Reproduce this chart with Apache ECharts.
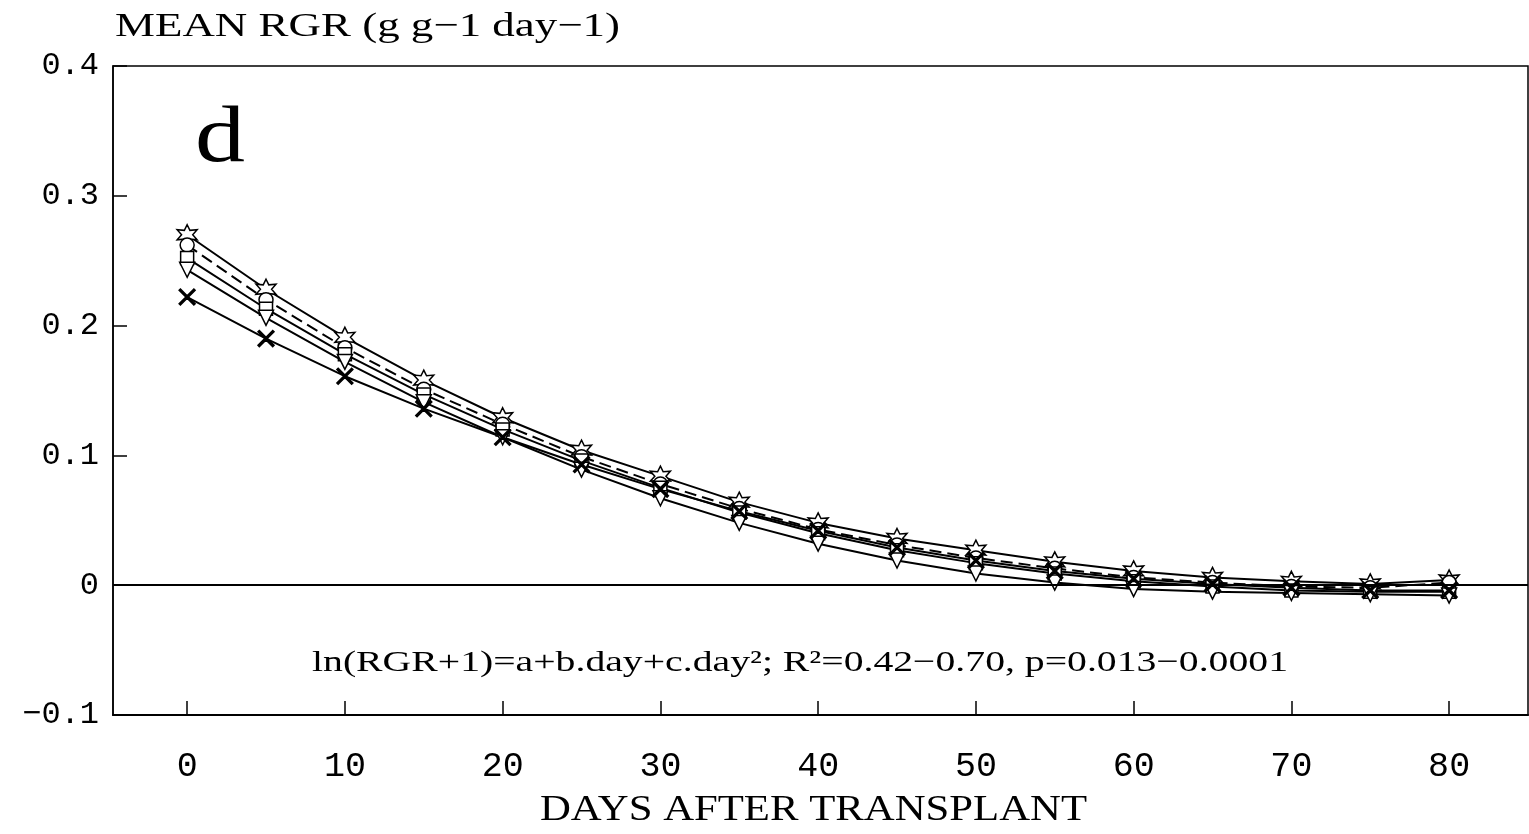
<!DOCTYPE html>
<html>
<head>
<meta charset="utf-8">
<script src="https://cdn.jsdelivr.net/npm/echarts@6/dist/echarts.min.js"></script>
<style>
html,body{margin:0;padding:0;background:#fff;}
#chart{width:1529px;height:834px;}
</style>
</head>
<body>
<div id="chart"></div>
<script>
// ---- data ----
const days = [0,5,10,15,20,25,30,35,40,45,50,55,60,65,70,75,80];
const seriesStar   = [0.270,0.228,0.191,0.158,0.129,0.104,0.084,0.064,0.048,0.036,0.027,0.018,0.011,0.006,0.003,0.001,0.004];
const seriesCircle = [0.262,0.220,0.183,0.151,0.124,0.099,0.078,0.059,0.043,0.031,0.021,0.013,0.006,0.002,-0.001,-0.002,0.002];
const seriesSquare = [0.252,0.213,0.178,0.147,0.120,0.096,0.075,0.056,0.040,0.027,0.017,0.009,0.003,-0.001,-0.004,-0.005,-0.005];
const seriesTri    = [0.243,0.206,0.172,0.141,0.114,0.089,0.067,0.048,0.032,0.019,0.009,0.002,-0.003,-0.005,-0.006,-0.007,-0.008];
const seriesCross  = [0.222,0.190,0.161,0.136,0.114,0.093,0.074,0.057,0.042,0.029,0.019,0.011,0.005,0.001,-0.002,-0.004,-0.004];
const xTicks = [0,10,20,30,40,50,60,70,80];
const yTicks = [-0.1,0,0.1,0.2,0.3,0.4];
const yTitle = 'MEAN RGR (g g\u22121 day\u22121)';
const xTitle = 'DAYS AFTER TRANSPLANT';
const equation = 'ln(RGR+1)=a+b.day+c.day\u00B2; R\u00B2=0.42\u22120.70, p=0.013\u22120.0001';
const panelLabel = 'd';

// ---- helpers ----
function pairs(vals){ return days.map((d,i)=>[d, vals[i]]); }
const ctx = document.createElement('canvas').getContext('2d');
function fitScale(text, font, target){ ctx.font = font; return target / ctx.measureText(text).width; }

const starPath = 'path://M50,0 L62,28 L93,25 L74,50 L93,75 L62,72 L50,100 L38,72 L7,75 L26,50 L7,25 L38,28 Z';
const crossPath = 'path://M8,0 L50,42 L92,0 L100,8 L58,50 L100,92 L92,100 L50,58 L8,100 L0,92 L42,50 L0,8 Z';

function lineSeries(name, vals, symbol, size, dash, fill, rotate){
  return {
    name, type:'line', data: pairs(vals), symbol, symbolSize:size, symbolRotate: rotate||0,
    showAllSymbol:true,
    lineStyle:{color:'#000', width:2, type: dash||'solid'},
    itemStyle:{color: fill||'#fff', borderColor:'#000', borderWidth:1.5},
    emphasis:{disabled:true}, animation:false
  };
}

const titleFont = '34px "Liberation Serif"';
const xTitleFont = '36px "Liberation Serif"';
const eqFont = '30px "Liberation Serif"';
const dFont = '80px "Liberation Serif"';

const chart = echarts.init(document.getElementById('chart'), null, {renderer:'canvas'});
const series = [
  lineSeries('star', seriesStar, starPath, 20),
  lineSeries('circle', seriesCircle, 'circle', 14, [12,6]),
  lineSeries('square', seriesSquare, 'rect', 13),
  lineSeries('tri', seriesTri, 'triangle', 15, 'solid', '#fff', 180),
  lineSeries('cross', seriesCross, crossPath, 16, 'solid', '#000')
];
series[0].markLine = {
  silent:true, symbol:'none', label:{show:false}, animation:false,
  lineStyle:{color:'#000', width:2, type:'solid'},
  data:[{yAxis:0}]
};

chart.setOption({
  backgroundColor:'#fff',
  animation:false,
  grid:{left:113, right:1, top:66, bottom:119, show:true, borderColor:'#000', borderWidth:1.5, backgroundColor:'transparent'},
  xAxis:{
    type:'value', min:-4.7, max:85,
    axisLine:{show:true, onZero:false, lineStyle:{color:'#000', width:2}},
    axisTick:{show:true, inside:true, length:14, customValues:xTicks, lineStyle:{color:'#000', width:1.5}},
    axisLabel:{show:true, customValues:xTicks, margin:34, color:'#000', fontFamily:'Liberation Mono', fontSize:35,
      formatter:v=>String(v)},
    splitLine:{show:false}
  },
  yAxis:{
    type:'value', min:-0.1, max:0.4, interval:0.1,
    axisLine:{show:true, onZero:false, lineStyle:{color:'#000', width:1.5}},
    axisTick:{show:true, inside:true, length:14, customValues:yTicks, lineStyle:{color:'#000', width:1.5}},
    axisLabel:{show:true, customValues:yTicks, margin:14, color:'#000', fontFamily:'Liberation Mono', fontSize:32,
      formatter:v=>{ if (Math.abs(v)<1e-9) return '0'; return (v<0?'\u2212':'') + Math.abs(v).toFixed(1); }},
    splitLine:{show:false}
  },
  graphic:[
    {type:'text', x:115, y:10, scaleX: fitScale(yTitle, titleFont, 505),
      style:{text:yTitle, font:titleFont, fill:'#000'}},
    {type:'text', x:540, y:793, scaleX: fitScale(xTitle, xTitleFont, 547),
      style:{text:xTitle, font:xTitleFont, fill:'#000'}},
    {type:'text', x:312, y:648, scaleX: fitScale(equation, eqFont, 976),
      style:{text:equation, font:eqFont, fill:'#000'}},
    {type:'text', x:195, y:100, scaleX: fitScale(panelLabel, dFont, 50),
      style:{text:panelLabel, font:dFont, fill:'#000'}}
  ],
  series
});
</script>
</body>
</html>
